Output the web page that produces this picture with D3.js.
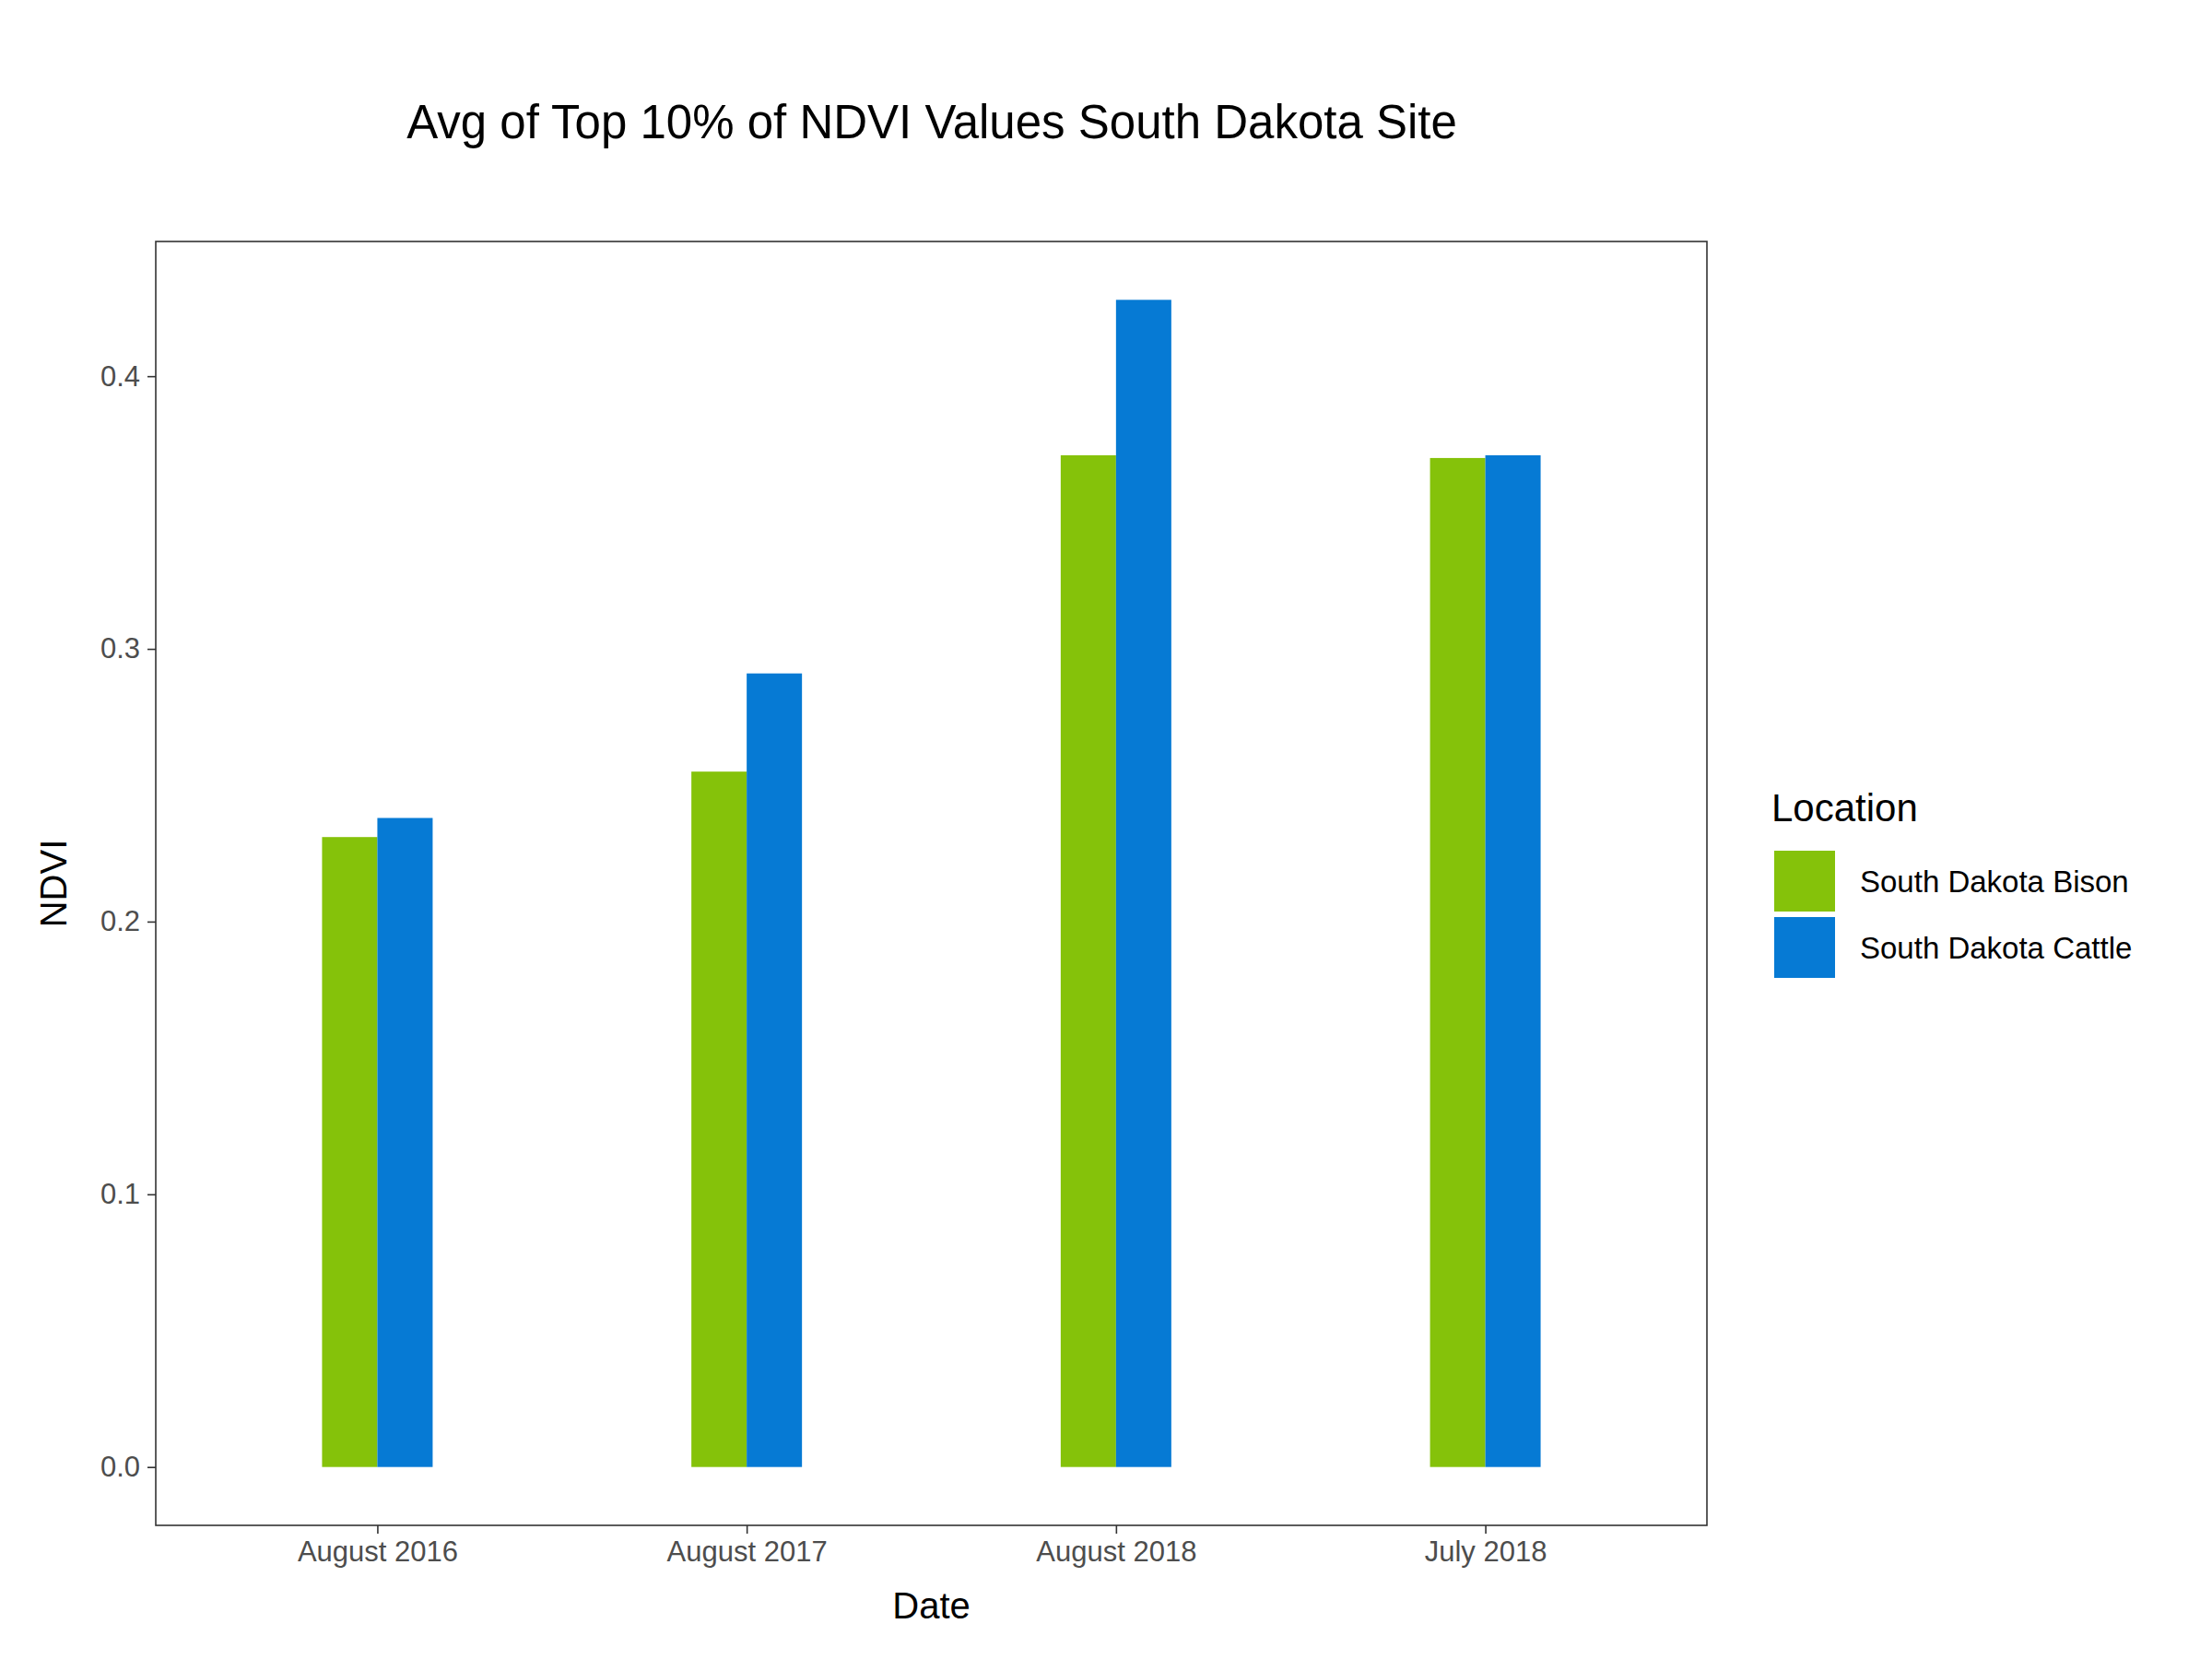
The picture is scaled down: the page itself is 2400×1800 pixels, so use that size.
<!DOCTYPE html>
<html><head><meta charset="utf-8">
<script src="https://cdn.jsdelivr.net/npm/d3@7"></script>
<style>body{margin:0;background:#fff}text{font-family:"Liberation Sans",Arial,sans-serif}</style>
</head><body><svg id="chart" width="2400" height="1800"></svg>
<script>
var dates = ["August 2016", "August 2017", "August 2018", "July 2018"];
var locations = ["South Dakota Bison", "South Dakota Cattle"];
var bison = [0.231, 0.255, 0.371, 0.370];
var cattle = [0.238, 0.291, 0.428, 0.371];
var yTicks = [0.0, 0.1, 0.2, 0.3, 0.4];
var colors = ["#85C20A", "#067AD4"];

var svg = d3.select("#chart");
var pLeft = 169, pRight = 1852, pTop = 262, pBottom = 1655;

var x = d3.scalePoint().domain(dates).range([pLeft, pRight]).padding(0.6);
var y = d3.scaleLinear().domain([-0.0214, 0.4494]).range([pBottom, pTop]);
var barW = 60;

svg.append("rect").attr("x", pLeft).attr("y", pTop).attr("width", pRight - pLeft).attr("height", pBottom - pTop)
  .attr("fill", "none").attr("stroke", "#333").attr("stroke-width", 1.6);

var series = [bison, cattle];
series.forEach(function(vals, s) {
  svg.selectAll(".bar" + s).data(dates).enter().append("rect")
    .attr("x", function(d) { return x(d) - barW + s * barW; })
    .attr("y", function(d, i) { return y(vals[i]); })
    .attr("width", barW)
    .attr("height", function(d, i) { return y(0) - y(vals[i]); })
    .attr("fill", colors[s]);
});

// axes
var yAxis = svg.append("g").attr("transform", "translate(" + pLeft + ",0)")
  .call(d3.axisLeft(y).tickValues(yTicks).tickFormat(d3.format(".1f")).tickSize(9).tickPadding(8));
var xAxis = svg.append("g").attr("transform", "translate(0," + pBottom + ")")
  .call(d3.axisBottom(x).tickSize(9).tickPadding(8));
[yAxis, xAxis].forEach(function(a) {
  a.select(".domain").remove();
  a.selectAll("line").attr("stroke", "#333").attr("stroke-width", 1.6);
  a.selectAll("text").attr("fill", "#4d4d4d").style("font-size", "31px");
});

svg.append("text").attr("x", 1011).attr("y", 150).attr("text-anchor", "middle")
  .style("font-size", "51px").text("Avg of Top 10% of NDVI Values South Dakota Site");
svg.append("text").attr("x", (pLeft + pRight) / 2).attr("y", 1756).attr("text-anchor", "middle")
  .style("font-size", "40px").text("Date");
svg.append("text").attr("transform", "translate(72," + (pTop + pBottom) / 2 + ") rotate(-90)")
  .attr("text-anchor", "middle").style("font-size", "40px").text("NDVI");

// legend
svg.append("text").attr("x", 1922).attr("y", 891).style("font-size", "42px").text("Location");
locations.forEach(function(l, i) {
  svg.append("rect").attr("x", 1925).attr("y", 923 + i * 72).attr("width", 66).attr("height", 66).attr("fill", colors[i]);
  svg.append("text").attr("x", 2018).attr("y", 956 + i * 72).attr("dy", "0.35em").style("font-size", "33px").text(l);
});
</script></body></html>
